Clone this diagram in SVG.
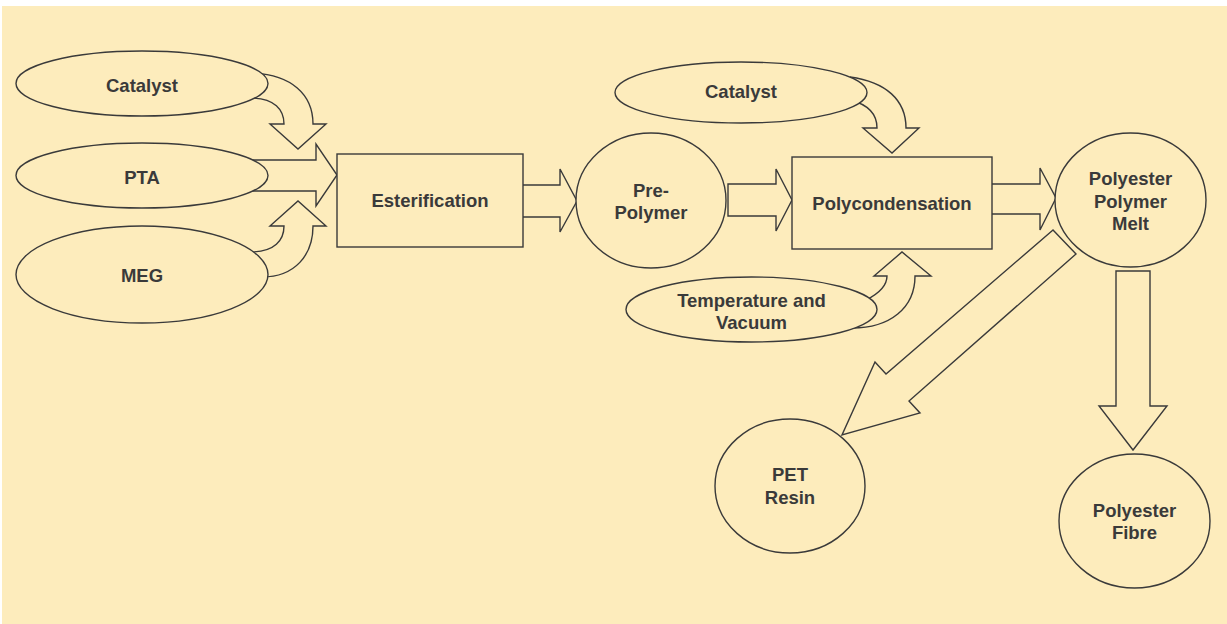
<svg xmlns="http://www.w3.org/2000/svg" width="1227" height="624" viewBox="0 0 1227 624">
<style>
.s{fill:#FDECBC;stroke:#3a3a3a;stroke-width:1.4;stroke-linejoin:miter}
.t{font-family:"Liberation Sans",Arial,sans-serif;font-weight:bold;font-size:18.5px;fill:#3a3a3a;text-anchor:middle}
</style>
<rect x="2" y="6" width="1225" height="618" fill="#FDECBC"/>
<g id="connectors">
<path class="s" d="M250,73 C292,74 313,95 313,124 L326,124 L298,149 L270,124 L284,124 C284,110 275,98 250,98"/>
<path class="s" d="M250,160 L316,160 L316,144 L337,175 L316,206 L316,191 L250,191"/>
<path class="s" d="M250,252 C275,252 284,240 284,226 L270,226 L298,201 L326,226 L313,226 C313,255 295,277 262,277"/>
<path class="s" d="M523,185 L560,185 L560,169 L577,201 L560,232 L560,217 L523,217"/>
<path class="s" d="M728,184 L776,184 L776,169 L792,200 L776,231 L776,216 L728,216 Z"/>
<path class="s" d="M850,77 C886,82 906,100 906,128 L919,128 L892,153 L863,128 L877,128 C877,115 870,105 850,100"/>
<path class="s" d="M866,300 C880,293 887,285 887,276 L874,276 L902,252 L931,276 L915,276 C915,308 890,328 852,328"/>
<path class="s" d="M992,184 L1040,184 L1040,168 L1056,198 L1040,230 L1040,214 L992,214"/>
<path class="s" d="M1053,230 L886,374 L875,362 L842,435 L920,413 L909,401 L1076,254 Z"/>
<path class="s" d="M1116,271 L1150,271 L1150,406 L1167,406 L1133,450 L1099,406 L1116,406 Z"/>
</g>
<g id="catalyst1"><ellipse class="s" cx="142" cy="83.5" rx="126" ry="32.5"/><text class="t" x="142" y="92">Catalyst</text></g>
<g id="pta"><ellipse class="s" cx="142" cy="175.5" rx="126" ry="32.5"/><text class="t" x="142" y="184">PTA</text></g>
<g id="meg"><ellipse class="s" cx="142" cy="274.5" rx="126" ry="48.5"/><text class="t" x="142" y="282">MEG</text></g>
<g id="esterification"><rect class="s" x="337" y="154" width="186" height="93"/><text class="t" x="430" y="207">Esterification</text></g>
<g id="prepolymer"><ellipse class="s" cx="651" cy="200.5" rx="75" ry="67.5"/><text class="t" x="651" y="197">Pre-</text><text class="t" x="651" y="219">Polymer</text></g>
<g id="catalyst2"><ellipse class="s" cx="741" cy="92.5" rx="126" ry="30.5"/><text class="t" x="741" y="98">Catalyst</text></g>
<g id="polycondensation"><rect class="s" x="792" y="157" width="200" height="92"/><text class="t" x="892" y="210">Polycondensation</text></g>
<g id="tempvac"><ellipse class="s" cx="751.5" cy="309.5" rx="125.5" ry="32.5"/><text class="t" x="751.5" y="307">Temperature and</text><text class="t" x="751.5" y="329">Vacuum</text></g>
<g id="melt"><ellipse class="s" cx="1130.5" cy="200" rx="75.5" ry="67"/><text class="t" x="1130.5" y="185">Polyester</text><text class="t" x="1130.5" y="208">Polymer</text><text class="t" x="1130.5" y="230">Melt</text></g>
<g id="petresin"><ellipse class="s" cx="790" cy="486" rx="75" ry="67"/><text class="t" x="790" y="481">PET</text><text class="t" x="790" y="504">Resin</text></g>
<g id="fibre"><ellipse class="s" cx="1134.5" cy="521" rx="75.5" ry="67"/><text class="t" x="1134.5" y="517">Polyester</text><text class="t" x="1134.5" y="539">Fibre</text></g>
</svg>
